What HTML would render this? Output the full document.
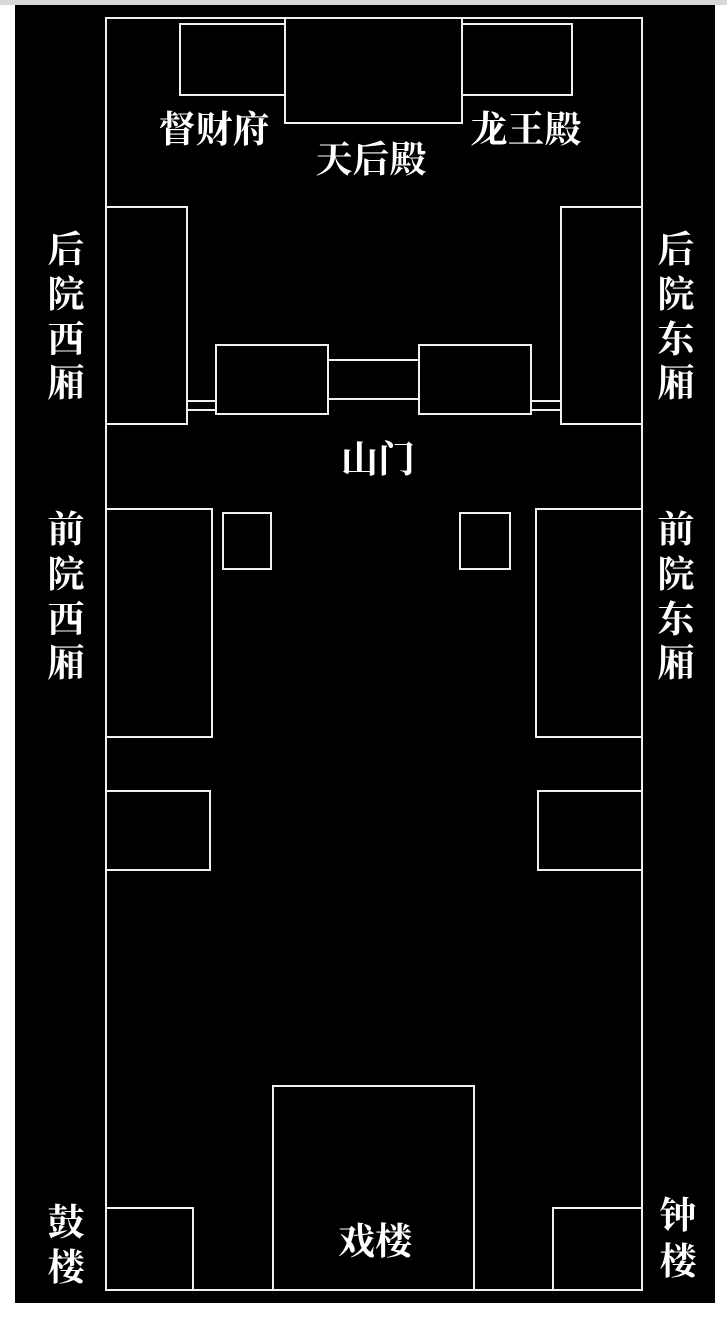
<!DOCTYPE html>
<html><head><meta charset="utf-8"><style>
html,body{margin:0;padding:0;background:#fff;}
#c{position:relative;width:727px;height:1326px;overflow:hidden;background:#fff;}
</style></head><body><div id="c">
<svg width="727" height="1326" style="position:absolute;left:0;top:0">
<rect x="0" y="0" width="727" height="5" fill="#d8d8d8"/>
<rect x="15" y="5" width="700" height="1298" fill="#000"/>
<g fill="none" stroke="#f0f0f0" stroke-width="2">
<rect x="106" y="18" width="536" height="1272"/>
<rect x="180" y="24" width="105" height="71"/>
<rect x="285" y="18" width="177" height="105"/>
<rect x="462" y="24" width="110" height="71"/>
<rect x="106" y="207" width="81" height="217"/>
<rect x="561" y="207" width="81" height="217"/>
<rect x="216" y="345" width="112" height="69"/>
<rect x="419" y="345" width="112" height="69"/>
<line x1="328" y1="360" x2="419" y2="360"/><line x1="328" y1="399" x2="419" y2="399"/>
<line x1="187" y1="401" x2="216" y2="401"/><line x1="187" y1="410" x2="216" y2="410"/>
<line x1="531" y1="401" x2="561" y2="401"/><line x1="531" y1="410" x2="561" y2="410"/>
<rect x="106" y="509" width="106" height="228"/>
<rect x="536" y="509" width="106" height="228"/>
<rect x="223" y="513" width="48" height="56"/>
<rect x="460" y="513" width="50" height="56"/>
<rect x="106" y="791" width="104" height="79"/>
<rect x="538" y="791" width="104" height="79"/>
<rect x="273" y="1086" width="201" height="204"/>
<rect x="106" y="1208" width="87" height="82"/>
<rect x="553" y="1208" width="89" height="82"/>
</g>
<g fill="#fff" font-family="'Liberation Serif','Noto Serif CJK SC',serif" font-weight="bold" font-size="37" text-anchor="middle">
<text x="214" y="142">督财府</text>
<text x="371" y="172">天后殿</text>
<text x="526" y="142">龙王殿</text>
<text x="378" y="472">山门</text>
<text x="375" y="1254">戏楼</text>
<text x="66" y="262">后</text><text x="66" y="307">院</text><text x="66" y="352">西</text><text x="66" y="396">厢</text>
<text x="676" y="262">后</text><text x="676" y="307">院</text><text x="676" y="352">东</text><text x="676" y="396">厢</text>
<text x="66" y="542">前</text><text x="66" y="587">院</text><text x="66" y="632">西</text><text x="66" y="676">厢</text>
<text x="676" y="542">前</text><text x="676" y="587">院</text><text x="676" y="632">东</text><text x="676" y="676">厢</text>
<text x="66" y="1235">鼓</text><text x="66" y="1280">楼</text>
<text x="678" y="1228">钟</text><text x="678" y="1274">楼</text>
</g>
</svg>
</div></body></html>
